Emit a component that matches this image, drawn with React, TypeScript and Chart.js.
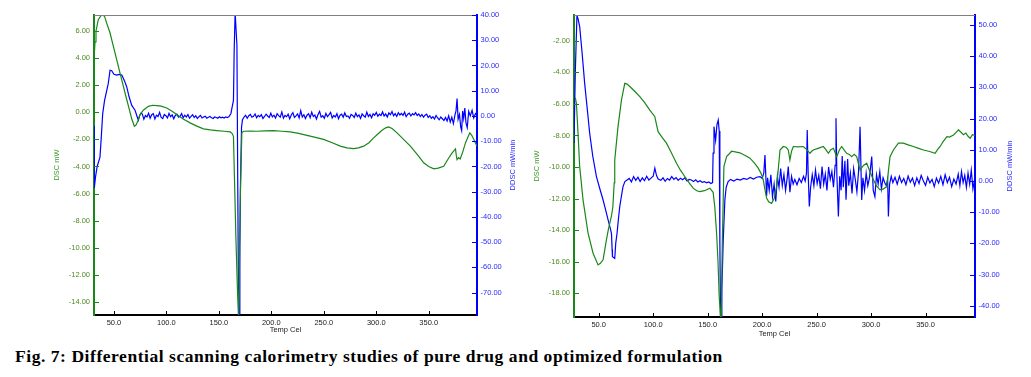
import React, { useEffect, useRef } from 'react';
import { Chart, registerables } from 'chart.js';

Chart.register(...registerables);

// ---------- Shared tick labels ----------
const xTicks = [50, 100, 150, 200, 250, 300, 350];

// ---------- Panel 1: pure drug ----------
const p1DscTemp = [31, 32, 32.9, 35.1, 38.3, 41, 43, 46.3, 50, 54.2, 59, 62, 64.7, 67, 69.5, 71, 73, 74.9, 78, 82.8, 87, 90.8, 95, 100.4, 105, 109.9, 116, 122.6, 129, 135.3, 142, 148, 155, 160.8, 162.5, 163.9, 164.9, 166.2, 167.7, 168.7, 169.5, 170.5, 171.9, 173.4, 180, 186.2, 194, 202.1, 210, 218, 226, 234, 242, 249.8, 258, 265.7, 272, 278.4, 283, 288, 293, 297.5, 301.5, 305.5, 309, 311.8, 315, 319.8, 326, 332.5, 339, 345.2, 350, 354.8, 359, 364.3, 368, 372.3, 375.5, 376.3, 377, 378.5, 380, 382.5, 385, 387, 389.1, 391, 393, 396];
const p1DscVal = [3.9, 5.2, 6.0, 6.83, 7.2, 7.1, 6.6, 5.85, 4.7, 3.39, 1.92, 1.0, 0.2, -0.5, -1.03, -0.95, -0.6, -0.17, 0.15, 0.44, 0.52, 0.49, 0.45, 0.32, 0.1, -0.17, -0.5, -0.78, -1.02, -1.22, -1.3, -1.35, -1.4, -1.45, -1.55, -1.77, -4.96, -9.14, -13.07, -15.0, -12, -6, -1.52, -1.4, -1.38, -1.4, -1.37, -1.35, -1.4, -1.45, -1.55, -1.7, -1.85, -2.0, -2.25, -2.5, -2.62, -2.68, -2.62, -2.5, -2.25, -1.89, -1.6, -1.33, -1.15, -1.08, -1.2, -1.52, -2.0, -2.5, -3.1, -3.73, -4.0, -4.17, -4.12, -3.98, -3.5, -2.99, -2.7, -3.2, -3.49, -3.35, -3.45, -2.9, -2.26, -1.9, -1.52, -1.7, -2.0, -2.5];

const p1DdscTemp = [
  31, 31.3, 32.5, 34, 36.7, 38, 39.3, 41, 44.6, 46.3, 47.9, 50, 52.7, 55, 57.5, 60, 62.2, 64.5, 67, 70.1, 71.5, 73.3, 74.5, 76,
  77, 78.5, 80, 81.5, 83, 84.5, 86, 87.5, 89, 90.5, 92, 93.5, 95, 96.5, 98, 99.5, 101, 102.5, 104, 105.5, 107, 108.5, 110, 111.5, 113, 114.5, 116, 117.5, 119, 120.5, 122, 123.5, 125, 126.5, 128, 129.5, 131, 132.5, 134, 135.5, 137, 138.5, 140, 141.5, 143, 144.5, 146, 147.5, 149, 150.5, 152, 153.5, 155, 156.5, 158, 159.5, 160.5,
  161.5, 162.4, 163.9, 164.6, 165.5, 166.3, 167.2, 168.1, 168.8, 169.3, 170, 170.6, 171.6, 172.5,
  174, 175.5, 177, 178.5, 180, 181.5, 183, 184.5, 186, 187.5,
  189, 190.5, 192, 193.5, 195, 196.5, 198, 199.5, 201, 202.5,
  204, 205.5, 207, 208.5, 210, 211.5, 213, 214.5, 216, 217.5,
  219, 220.5, 222, 223.5, 225, 226.5, 228, 229.5, 231, 232.5,
  234, 235.5, 237, 238.5, 240, 241.5, 243, 244.5, 246, 247.5,
  249, 250.5, 252, 253.5, 255, 256.5, 258, 259.5, 261, 262.5,
  264, 265.5, 267, 268.5, 270, 271.5, 273, 274.5, 276, 277.5,
  279, 280.5, 282, 283.5, 285, 286.5, 288, 289.5, 291, 292.5,
  294, 295.5, 297, 298.5, 300, 301.5, 303, 304.5, 306, 307.5,
  309, 310.5, 312, 313.5, 315, 316.5, 318, 319.5, 321, 322.5,
  324, 325.5, 327, 328.5, 330, 331.5, 333, 334.5, 336, 337.5,
  339, 340.5, 342, 343.5, 345, 346.5, 348, 349.5, 351, 352.5,
  354, 355.5, 357, 358.5, 360, 361.5, 363, 364.5, 366, 367.5,
  369, 370.5, 372, 373.5, 375, 376, 377, 378, 379.3, 380.5, 381.4, 382.3, 383.3, 384.4, 385.5, 386.7, 388.1, 389.6, 391.3, 392.9, 394.6, 396,
];
const p1DdscVal = [
  -4, -28.5, -24, -20, -16.3, -8, 0.95, 6, 12.9, 18.1, 17.9, 16.5, 16.2, 16.5, 16.2, 14, 11.5, 7.5, 4.2, 2.3, 0.5, -1.7, 0.2, 1.2,
  0.8, -1.3, 0.2, -0.4, 1.1, -0.9, 0.5, 0.9, -1.2, 0.3, -0.2, 1.4, -0.6, -1.0, 0.6, 0.1, -0.8, 1.0, -0.3, 0.4, -1.1, 0.2, 0.7, -0.5, -0.1, 0.9, -0.7, 0.3, -0.4, 0.6, -0.9, -0.2, 0.5, -0.6, 0.1, -1.0, -0.3, 0.2, -0.8, -0.4, -0.1, -0.9, -0.5, -0.2, -0.7, -1.0, -0.4, -0.6, -0.9, -0.3, -0.7, -0.5, -0.8, -0.4, -0.6, -0.3, 0.3,
  1.0, 3, 6.2, 26, 41, 41, 28, -33.5, -80, -80, -52, -27, -4.4, -1.5,
  -0.4, 0.3, -0.9, 0.1, 0.6, -0.5, -0.1, 0.8, -0.7, 0.2,
  -0.3, 0.5, -1.0, -0.2, 0.7, 0.0, -0.6, 1.1, -0.4, 0.3,
  -0.8, 0.9, 0.1, -0.5, 1.6, -0.9, 0.2, -0.3, 0.7, -1.1,
  0.4, 1.3, -0.6, 0.0, 0.8, -0.8, 2.1, -0.4, 0.5, -1.0,
  0.3, 0.9, -0.7, 1.5, -0.2, 0.4, -1.2, 0.6, 1.8, -0.5,
  0.1, -0.9, 1.0, -0.3, 0.5, 1.4, -0.8, 0.2, -0.4, 0.9,
  -1.1, 0.3, 0.7, -0.5, 1.2, -0.2, 0.0, -0.9, 0.6, 0.2,
  -0.6, 1.1, -0.3, 0.4, -1.0, 0.8, 0.1, -0.5, 1.5, -0.2,
  0.6, -0.7, 0.9, 0.3, 1.4, -0.1, 0.7, 0.2, 1.6, 0.0,
  0.8, -0.4, 1.2, 0.5, 1.8, 0.1, 0.9, -0.2, 1.3, 0.4,
  1.0, 0.2, 1.5, -0.3, 0.7, 1.1, 0.0, 0.9, 0.4, 1.3,
  0.2, 0.8, -0.2, 0.6, -0.5, 0.3, 0.7, -0.6, 0.1, -0.9,
  -0.3, -1.2, 0.2, -0.8, -1.5, -0.4, -1.1, -1.8, -0.6, -2.0,
  0.1, -2.4, -0.5, -3.0, 0.4, 2, 6.9, -1.3, 0.6, -4.4, -5.8, 2, -1, 3.1, -2.7, -4.6, 1.8, 0, 2.2, -0.8, 1.0, 0.5,
];

const p1LeftTicks = [6, 4, 2, 0, -2, -4, -6, -8, -10, -12, -14];
const p1RightTicks = [40, 30, 20, 10, 0, -10, -20, -30, -40, -50, -60, -70];

// ---------- Panel 2: optimized formulation ----------
const p2DscTemp = [28.5, 29.5, 31, 32.5, 35.6, 40.2, 44.8, 49.4, 51.5, 54, 57.1, 59, 61.7, 63, 64.2, 64.7, 67.7, 70.9, 73.9, 76, 78.5, 83, 87.7, 92, 96.9, 101.5, 103, 104.5, 108, 112.2, 116, 121.4, 125, 129, 133, 136.7, 140, 142.8, 147, 152, 155, 156.5, 158.2, 159.5, 160.6, 161.8, 162.5, 163.4, 164.9, 167.4, 172, 179.6, 184, 188.8, 193, 196.4, 199, 201, 202.5, 204.1, 206, 208.7, 211, 213.3, 215, 216.4, 219.4, 222, 224, 225.5, 227, 228.6, 233, 237.8, 241, 243.9, 245.5, 247, 252, 256.2, 258.5, 260.8, 263, 265.4, 268.5, 271, 273, 275.5, 277.6, 280, 282.2, 284.5, 286.8, 289.9, 293, 296, 299, 302.1, 305, 308.2, 311, 314.4, 316, 317.4, 320.5, 325.1, 329.7, 334, 338.9, 343, 348.1, 353, 358.8, 361, 363.4, 366, 369.6, 372, 375.7, 378, 380.2, 382.5, 384.8, 387, 389, 391, 393, 395.4];
const p2DscVal = [-5.6, -5.96, -7.86, -9.97, -12.08, -14.19, -15.46, -16.2, -16.1, -15.88, -14.6, -13.9, -13.1, -12.5, -11.0, -9.55, -7.44, -5.75, -4.7, -4.75, -4.9, -5.2, -5.54, -5.9, -6.39, -6.81, -7.3, -7.76, -8.1, -8.49, -9.0, -9.76, -10.2, -10.6, -11.0, -11.34, -11.5, -11.56, -11.5, -11.34, -11.6, -12.5, -14.19, -16, -18.2, -19.5, -19.5, -15, -9.97, -9.34, -9.0, -9.1, -9.25, -9.44, -9.75, -10.07, -10.4, -10.8, -11.4, -11.97, -12.2, -12.3, -12.0, -11.24, -10.0, -8.92, -8.7, -8.75, -8.92, -9.55, -9.0, -8.7, -8.72, -8.7, -8.9, -9.13, -9.0, -8.92, -8.8, -8.7, -8.9, -9.13, -8.9, -8.81, -9.34, -8.9, -8.7, -8.95, -9.13, -9.2, -9.34, -9.2, -9.34, -10.2, -9.9, -9.76, -10.3, -10.8, -11.2, -11.45, -11.4, -11.24, -10.2, -9.34, -8.92, -8.49, -8.49, -8.6, -8.7, -8.8, -8.92, -9.0, -9.13, -8.9, -8.7, -8.4, -8.08, -8.1, -7.97, -7.8, -7.65, -7.8, -7.95, -7.85, -8.05, -8.18, -7.95, -8.0];

const p2DdscTemp = [27.3, 28.5, 30, 31, 32.5, 34.5, 37.1, 39.5, 41.7, 44.5, 47.9, 51, 54, 56.5, 58.6, 60.5, 61.7, 62.3, 62.6, 64.7, 65.6, 66.8, 68, 69.3, 71, 72.3, 74, 76, 78, 80, 82, 84, 86, 88, 90, 92, 94, 96, 98, 100, 101.5, 103, 104.5, 107, 109, 111, 113, 115, 117, 119, 121, 123, 125, 127, 129, 131, 133, 135, 137, 139, 141, 143, 145, 147, 149, 151, 153, 154.5, 155, 155.8, 157.3, 158.5, 159.7, 160.6, 161.2, 161.8, 162.4, 163, 164.3, 165.8, 167, 168.8, 171, 174, 177, 180, 183, 186, 189, 192, 195, 198, 200, 201.5, 202.6, 203.5, 204.1, 205, 206.5, 208, 209.5, 211, 212.5, 214, 215.5, 217, 218.5, 220, 221.5, 223, 224, 225.5, 227, 228.5, 230, 232, 234, 236, 238, 239.5, 240.7, 241.4, 242.2, 243.3, 244.5, 246, 247.5, 249, 250.5, 252, 253.5, 255, 256.5, 258, 259.5, 261, 262.5, 264, 265.5, 267, 267.8, 268.6, 270, 271.2, 272.5, 273.5, 274.5, 276, 277, 278.5, 279.5, 281, 282.5, 284, 285.5, 287, 288.5, 289.9, 291.4, 292.5, 294, 295.5, 297, 298.5, 300.6, 302, 303.5, 305, 306.5, 308, 309.5, 311, 312.5, 314, 315.2, 315.9, 317, 318.5, 320, 322, 324, 326, 328, 330, 332, 334, 336, 338, 340, 342, 344, 346, 348, 350, 352, 354, 356, 358, 360, 362, 364, 366, 368, 370, 372, 374, 376, 378, 380, 381.5, 383, 384.5, 386, 387.5, 389, 390.5, 392, 393.5, 395];
const p2DdscVal = [12.1, 35, 53, 52, 49.5, 42, 31.3, 23, 15.3, 8, 1.4, -2.5, -6.1, -9.5, -12.5, -15, -16.8, -22, -24.3, -24.8, -20, -16.8, -12.5, -8.2, -4.5, -1.8, -0.2, 0.3, 0.8, -0.3, 1.4, 0.2, 1.2, -0.2, 1.0, 0.1, 1.5, 0.3, 0.9, 1.5, 4.1, 1.8, 0.6, 0.2, 1.0, -0.1, 0.8, 0.3, 1.4, 0.5, 1.1, 0.2, 0.9, 0.4, 1.0, 0.0, 0.5, 0.3, -0.2, 0.4, -0.3, 0.1, -0.4, -0.2, -0.6, -0.3, -0.8, -0.5, 8.9, 17.4, 13, 18, 19.5, 16, -20, -43.6, -43.6, -35, -18.9, -6, -2, -0.2, 0.5, 0.0, 0.6, 0.3, 0.8, 0.5, 1.1, 0.6, 1.2, 1.4, 0.8, 2.5, 8.3, 0.5, -4.8, 1.0, -3, 2.0, -5, -1, -6.6, 1.5, -2, 4.0, -1.5, 2.0, -3, 1.0, 4.6, -3.6, 1.5, -1, 0.5, -1.2, 0.8, -0.5, 1.5, 0.0, 2.5, 16.3, 3, -8.2, -2, 2.0, -1.5, 3.5, -0.8, 1.8, -2.5, 4.6, -1.0, 2.2, -3, 4.5, 0.5, 3.0, -2, 5, 20.1, 2, -11.4, 1.5, -3, 8.0, -2, 6.5, -6, 7.0, -1.5, 2.5, -4, 4.0, 0.5, -3.5, 3.0, 17.4, -6.1, 1.0, -3.0, 2.5, -1.5, 1.0, 7.8, -3, -5, 2.0, -1.0, 3.0, -2.5, 1.0, -0.5, -1.5, 0.5, -11.4, -1, 1.5, -0.5, 1.2, -1.0, 1.5, -0.5, 0.8, -1.2, 1.6, -0.4, 0.9, -1.5, 1.0, -0.8, 1.8, 0.0, -1.4, 1.2, -0.6, 0.5, -1.8, 0.9, -0.7, 1.5, -1.2, 2.0, -0.5, 1.2, -1.8, 0.6, -1.0, 2.2, -1.5, 3.0, -0.5, 1.8, -2.0, 2.5, -1.0, 3.5, -2.5, 0.5];

const p2LeftTicks = [-2, -4, -6, -8, -10, -12, -14, -16, -18];
const p2RightTicks = [50, 40, 30, 20, 10, 0, -10, -20, -30, -40];

const captionText = 'Fig. 7: Differential scanning calorimetry studies of pure drug and optimized formulation';

// ---------- Styles ----------
const GREEN = 'rgb(25,135,25)';
const BLUE = 'rgb(0,0,255)';
const GREEN_LABEL = '#4f8a22';
const BLUE_LABEL = '#2a2aff';
const TICK_FONT = { family: "'Liberation Sans', Arial, sans-serif", size: 7.5 };

function toPoints(t: number[], v: number[]) {
  const n = Math.min(t.length, v.length);
  const out: { x: number; y: number }[] = [];
  for (let i = 0; i < n; i++) out.push({ x: t[i], y: v[i] });
  return out;
}

const decorPlugin = {
  id: 'decor',
  afterDraw(chart: any, _args: any, opts: any) {
    const { ctx, chartArea: a, scales } = chart;
    ctx.save();
    ctx.lineWidth = 1;
    ctx.strokeStyle = '#808080';
    ctx.beginPath();
    ctx.moveTo(a.left, a.top + 0.5);
    ctx.lineTo(a.right, a.top + 0.5);
    ctx.stroke();

    const y = scales.y, y2 = scales.y2, x = scales.x;
    ctx.strokeStyle = GREEN;
    ctx.beginPath();
    y.ticks.forEach((t: any) => {
      const p = Math.round(y.getPixelForValue(t.value)) + 0.5;
      ctx.moveTo(a.left, p);
      ctx.lineTo(a.left + 5, p);
    });
    ctx.stroke();
    ctx.strokeStyle = BLUE;
    ctx.beginPath();
    y2.ticks.forEach((t: any) => {
      const p = Math.round(y2.getPixelForValue(t.value)) + 0.5;
      ctx.moveTo(a.right, p);
      ctx.lineTo(a.right - 5, p);
    });
    ctx.stroke();
    ctx.strokeStyle = '#000';
    ctx.beginPath();
    x.ticks.forEach((t: any) => {
      const p = Math.round(x.getPixelForValue(t.value)) + 0.5;
      ctx.moveTo(p, a.bottom);
      ctx.lineTo(p, a.bottom - 4);
    });
    ctx.stroke();

    ctx.translate(opts.rightTitleX, (a.top + a.bottom) / 2);
    ctx.rotate(-Math.PI / 2);
    ctx.fillStyle = BLUE_LABEL;
    ctx.font = "7.5px 'Liberation Sans', Arial, sans-serif";
    ctx.textAlign = 'center';
    ctx.textBaseline = 'middle';
    ctx.fillText(opts.rightTitle, 0, 0);
    ctx.restore();
  },
};

type PanelProps = {
  left: number;
  width: number;
  height: number;
  yWidth: number;
  y2Width: number;
  xHeight: number;
  xMin: number;
  xMax: number;
  yMin: number;
  yMax: number;
  y2Min: number;
  y2Max: number;
  yTicks: number[];
  y2Ticks: number[];
  dsc: { x: number; y: number }[];
  ddsc: { x: number; y: number }[];
  yTitlePad: number;
  xTitlePad: number;
  rightTitleX: number;
};

function Panel(p: PanelProps) {
  const ref = useRef<HTMLCanvasElement>(null);
  useEffect(() => {
    if (!ref.current) return;
    const chart = new Chart(ref.current, {
      type: 'line',
      data: {
        datasets: [
          {
            label: 'DSC mW',
            data: p.dsc,
            yAxisID: 'y',
            borderColor: GREEN,
            borderWidth: 1.2,
            pointRadius: 0,
            tension: 0,
          },
          {
            label: 'DDSC mW/min',
            data: p.ddsc,
            yAxisID: 'y2',
            borderColor: BLUE,
            borderWidth: 1.2,
            pointRadius: 0,
            tension: 0,
          },
        ],
      },
      options: {
        animation: false,
        responsive: false,
        maintainAspectRatio: false,
        layout: { padding: { top: 15, left: 0, right: 0, bottom: 0 } },
        plugins: {
          legend: { display: false },
          tooltip: { enabled: false },
          decor: { rightTitleX: p.rightTitleX, rightTitle: 'DDSC mW/min' },
        } as any,
        scales: {
          x: {
            type: 'linear',
            min: p.xMin,
            max: p.xMax,
            afterBuildTicks: (s: any) => { s.ticks = xTicks.map((v) => ({ value: v })); },
            afterFit: (s: any) => { s.height = p.xHeight; },
            grid: { display: true, drawOnChartArea: false, drawTicks: false },
            border: { display: true, color: '#000', width: 2 },
            ticks: {
              color: '#222',
              font: TICK_FONT,
              padding: 3,
              maxRotation: 0,
              autoSkip: false,
              callback: (v: any) => Number(v).toFixed(1),
            },
            title: {
              display: true,
              text: 'Temp Cel',
              color: '#222',
              font: TICK_FONT,
              padding: { top: 0, bottom: p.xTitlePad },
            },
          },
          y: {
            type: 'linear',
            position: 'left',
            min: p.yMin,
            max: p.yMax,
            afterBuildTicks: (s: any) => { s.ticks = p.yTicks.map((v) => ({ value: v })); },
            afterFit: (s: any) => { s.width = p.yWidth; },
            grid: { display: true, drawOnChartArea: false, drawTicks: false },
            border: { display: true, color: GREEN, width: 2 },
            ticks: {
              color: GREEN_LABEL,
              font: TICK_FONT,
              padding: 4,
              autoSkip: false,
              callback: (v: any) => Number(v).toFixed(2),
            },
            title: {
              display: true,
              text: 'DSC mW',
              color: '#3e9a2e',
              font: TICK_FONT,
              padding: { top: p.yTitlePad, bottom: 0 },
            },
          },
          y2: {
            type: 'linear',
            position: 'right',
            min: p.y2Min,
            max: p.y2Max,
            afterBuildTicks: (s: any) => { s.ticks = p.y2Ticks.map((v) => ({ value: v })); },
            afterFit: (s: any) => { s.width = p.y2Width; },
            grid: { display: true, drawOnChartArea: false, drawTicks: false },
            border: { display: true, color: BLUE, width: 2 },
            ticks: {
              color: BLUE_LABEL,
              font: TICK_FONT,
              padding: 3.5,
              autoSkip: false,
              callback: (v: any) => Number(v).toFixed(2),
            },
          },
        },
      },
      plugins: [decorPlugin],
    });
    return () => chart.destroy();
  }, []);
  return (
    <canvas
      ref={ref}
      width={p.width}
      height={p.height}
      style={{ position: 'absolute', left: p.left, top: 0, width: p.width, height: p.height }}
    />
  );
}

export default function App() {
  return (
    <div
      style={{
        position: 'fixed',
        left: 0,
        top: 0,
        width: 1031,
        height: 377,
        background: '#fff',
        overflow: 'hidden',
      }}
    >
      <Panel
        left={0}
        width={530}
        height={345}
        yWidth={94}
        y2Width={53}
        xHeight={30}
        xMin={31}
        xMax={396}
        yMin={-14.96}
        yMax={7.18}
        y2Min={-78.85}
        y2Max={40}
        yTicks={p1LeftTicks}
        y2Ticks={p1RightTicks}
        dsc={toPoints(p1DscTemp, p1DscVal)}
        ddsc={toPoints(p1DdscTemp, p1DdscVal)}
        yTitlePad={52.5}
        xTitlePad={10.5}
        rightTitleX={513}
      />
      <Panel
        left={530}
        width={501}
        height={345}
        yWidth={44}
        y2Width={56}
        xHeight={28}
        xMin={27.3}
        xMax={395.4}
        yMin={-19.5}
        yMax={-0.37}
        y2Min={-43.6}
        y2Max={53.2}
        yTicks={p2LeftTicks}
        y2Ticks={p2RightTicks}
        dsc={toPoints(p2DscTemp, p2DscVal)}
        ddsc={toPoints(p2DdscTemp, p2DdscVal)}
        yTitlePad={2.5}
        xTitlePad={6.5}
        rightTitleX={480}
      />
      <div
        style={{
          position: 'absolute',
          left: 15,
          top: 346,
          fontFamily: "'Liberation Serif', 'Times New Roman', serif",
          fontWeight: 'bold',
          fontSize: 17.5,
          letterSpacing: '0.55px',
          lineHeight: '20px',
          color: '#000',
          whiteSpace: 'nowrap',
        }}
      >
        {captionText}
      </div>
    </div>
  );
}
